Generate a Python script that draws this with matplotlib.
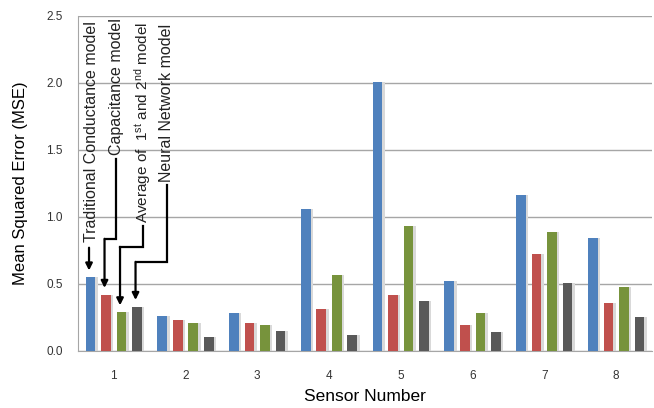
import matplotlib
matplotlib.use("Agg")
import matplotlib.pyplot as plt
import numpy as np

# MSE per sensor for the four models
sensors = ["1", "2", "3", "4", "5", "6", "7", "8"]
traditional = [0.55, 0.26, 0.28, 1.06, 2.01, 0.52, 1.16, 0.84]
capacitance = [0.42, 0.23, 0.21, 0.31, 0.42, 0.19, 0.72, 0.36]
average = [0.29, 0.21, 0.19, 0.57, 0.93, 0.28, 0.89, 0.48]
neural = [0.33, 0.10, 0.15, 0.12, 0.37, 0.14, 0.51, 0.25]
yticks = [0.0, 0.5, 1.0, 1.5, 2.0, 2.5]

series = [traditional, capacitance, average, neural]
colors = ["#4F81BD", "#C0504D", "#77933C", "#595959"]

plt.rcParams["font.family"] = ["Liberation Sans", "DejaVu Sans"]
plt.rcParams["mathtext.fontset"] = "custom"
plt.rcParams["mathtext.rm"] = "Liberation Sans"
plt.rcParams["mathtext.it"] = "Liberation Sans"

fig = plt.figure(figsize=(6.54, 4.08), dpi=100)
ax = fig.add_axes([0.119, 0.140, 0.878, 0.821])

x = np.arange(len(sensors))
step = 0.216
width = 0.135
offsets = [(i - 1.5) * step for i in range(4)]

for vals, col, off in zip(series, colors, offsets):
    # soft drop shadow like the original
    ax.bar(x + off + 0.035, vals, width, color="#d9d9d9", zorder=2)
    ax.bar(x + off, vals, width, color=col, zorder=3)

ax.set_xlim(-0.5, len(sensors) - 0.5)
ax.set_ylim(0, 2.5)
ax.set_yticks(yticks)
ax.set_yticklabels(["%.1f" % v for v in yticks], fontsize=8.5, color="#333333")
ax.set_xticks(x)
ax.set_xticklabels(sensors, fontsize=8.5, color="#333333")
ax.tick_params(axis="both", length=0)
ax.tick_params(axis="x", pad=14)
ax.tick_params(axis="y", pad=11)
ax.yaxis.grid(True, color="#a6a6a6", linewidth=1)
ax.set_axisbelow(True)
for s in ["top", "right"]:
    ax.spines[s].set_visible(False)
ax.spines["left"].set_color("#a6a6a6")
ax.spines["bottom"].set_color("#a6a6a6")

ax.set_xlabel("Sensor Number", fontsize=12.5, labelpad=5)
ax.set_ylabel("Mean Squared Error (MSE)", fontsize=12, labelpad=13)

# vertical labels with elbow arrows pointing at the sensor 1 bars
labels = ["Traditional Conductance model", "Capacitance model",
          "Average of  1$^{\\mathrm{st}}$ and 2$^{\\mathrm{nd}}$ model",
          "Neural Network model"]
text_x = [-0.31, 0.037, 0.406, 0.74]
text_y = [0.81, 1.46, 0.955, 1.26]
elbow_y = [0.77, 0.836, 0.776, 0.664]
for i, lab in enumerate(labels):
    ax.text(text_x[i], text_y[i], lab, rotation=90, ha="center", va="bottom",
            fontsize=11.5 if i != 2 else 11, color="#222222", zorder=5)
    bx = offsets[i] - 0.02
    tip = series[i][0] + 0.05
    if i == 0:
        pts = [(bx, elbow_y[i])]
    else:
        top = text_y[i] - 0.025
        pts = [(text_x[i], top), (text_x[i], elbow_y[i]), (bx, elbow_y[i])]
    if len(pts) > 1:
        xs, ys = zip(*pts)
        ax.plot(xs, ys, color="black", linewidth=1.6, zorder=5,
                solid_joinstyle="miter")
    ax.annotate("", xy=(bx, tip), xytext=pts[-1],
                arrowprops=dict(arrowstyle="-|>", color="black", lw=1.6,
                                mutation_scale=10, shrinkA=0, shrinkB=0),
                zorder=5)

fig.savefig("out.png", dpi=100)
